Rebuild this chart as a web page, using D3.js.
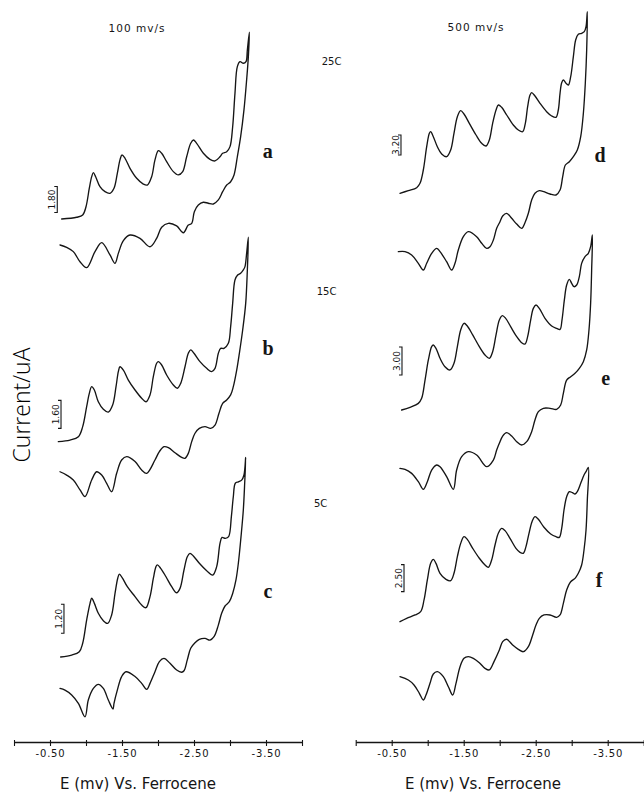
<!DOCTYPE html>
<html><head><meta charset="utf-8">
<script src="https://cdn.jsdelivr.net/npm/d3@7"></script>
<style>body{margin:0;background:#fff}svg{display:block}</style>
</head><body><svg id="chart" width="644" height="794"></svg>
<script>
// ---------- DATA (E in V vs Ferrocene, current in uA relative to scan start) ----------
const E_TICKS = [0, -0.5, -1, -1.5, -2, -2.5, -3, -3.5, -4];
const E_LABELS = [-0.5, -1.5, -2.5, -3.5];
const SCAN_RATES = ["100 mv/s", "500 mv/s"];
const TEMPERATURES = ["25C", "15C", "5C"];
const PANEL_LETTERS = ["a", "b", "c", "d", "e", "f"];
const SCALE_BARS = [1.80, 1.60, 1.20, 3.20, 3.00, 2.50];

const a_forward = [[-0.662,0.00],[-0.870,0.12],[-0.954,0.28],[-1.000,0.85],[-1.046,2.13],[-1.079,2.93],[-1.102,3.21],[-1.134,2.93],[-1.194,2.24],[-1.264,1.89],[-1.333,1.78],[-1.389,2.13],[-1.435,3.16],[-1.472,4.09],[-1.500,4.43],[-1.542,4.20],[-1.611,3.51],[-1.704,2.82],[-1.796,2.42],[-1.852,2.35],[-1.912,2.93],[-1.958,4.09],[-2.005,4.73],[-2.051,4.55],[-2.120,3.97],[-2.213,3.28],[-2.282,3.05],[-2.343,3.28],[-2.398,4.31],[-2.454,5.24],[-2.491,5.47],[-2.537,5.24],[-2.630,4.55],[-2.722,4.13],[-2.792,4.02],[-2.861,4.31],[-2.898,4.55],[-2.954,4.66],[-3.000,5.01],[-3.037,6.39],[-3.069,8.70],[-3.102,10.55],[-3.139,10.89],[-3.185,10.78],[-3.222,10.89],[-3.241,11.70],[-3.269,12.93]];
const a_reverse = [[-3.255,11.24],[-3.231,9.63],[-3.194,7.55],[-3.148,5.70],[-3.102,4.31],[-3.056,3.05],[-3.009,2.58],[-2.954,2.35],[-2.898,1.89],[-2.838,1.32],[-2.769,1.04],[-2.699,1.09],[-2.630,1.16],[-2.560,0.97],[-2.505,0.51],[-2.468,-0.30],[-2.421,-0.42],[-2.352,-0.95],[-2.259,-0.48],[-2.144,-0.30],[-2.051,-0.57],[-1.981,-1.34],[-1.889,-1.92],[-1.750,-1.34],[-1.611,-1.11],[-1.519,-1.50],[-1.449,-2.38],[-1.403,-3.07],[-1.333,-2.49],[-1.218,-1.64],[-1.125,-2.26],[-1.009,-3.37],[-0.917,-2.96],[-0.824,-2.26],[-0.731,-1.96],[-0.639,-1.80]];

const b_forward = [[-0.616,0.02],[-0.778,0.11],[-0.894,0.30],[-0.954,0.88],[-1.009,2.02],[-1.046,2.78],[-1.079,3.16],[-1.116,2.97],[-1.171,2.30],[-1.241,1.87],[-1.310,1.71],[-1.370,2.11],[-1.417,3.16],[-1.449,4.02],[-1.472,4.30],[-1.519,4.11],[-1.588,3.54],[-1.681,2.97],[-1.773,2.50],[-1.833,2.30],[-1.889,2.69],[-1.935,3.73],[-1.981,4.50],[-2.005,4.59],[-2.051,4.40],[-2.120,3.83],[-2.213,3.26],[-2.269,3.07],[-2.315,3.35],[-2.375,4.30],[-2.421,5.07],[-2.454,5.26],[-2.500,5.07],[-2.583,4.59],[-2.676,4.21],[-2.745,4.02],[-2.792,4.21],[-2.838,5.07],[-2.870,5.35],[-2.917,5.35],[-2.977,5.64],[-3.009,6.59],[-3.037,7.92],[-3.069,9.26],[-3.106,9.54],[-3.148,9.64],[-3.185,9.83],[-3.208,10.02],[-3.231,10.78],[-3.255,11.70]];
const b_reverse = [[-3.241,9.83],[-3.218,7.92],[-3.176,6.40],[-3.130,5.07],[-3.093,4.11],[-3.046,3.16],[-3.009,2.69],[-2.954,2.40],[-2.898,2.21],[-2.847,1.64],[-2.792,0.97],[-2.731,0.78],[-2.653,0.88],[-2.574,0.78],[-2.514,0.50],[-2.468,0.02],[-2.421,-0.65],[-2.375,-0.93],[-2.329,-0.88],[-2.236,-0.61],[-2.144,-0.32],[-2.083,-0.27],[-2.019,-0.55],[-1.958,-1.03],[-1.843,-1.79],[-1.773,-1.60],[-1.681,-1.12],[-1.565,-0.84],[-1.495,-1.03],[-1.426,-1.79],[-1.356,-2.84],[-1.287,-2.36],[-1.218,-1.89],[-1.148,-1.70],[-1.079,-2.17],[-0.986,-3.12],[-0.917,-2.74],[-0.824,-2.17],[-0.731,-1.89],[-0.639,-1.70]];

const c_forward = [[-0.648,0.00],[-0.801,0.08],[-0.907,0.22],[-0.954,0.57],[-1.009,1.53],[-1.056,2.22],[-1.079,2.43],[-1.116,2.22],[-1.171,1.81],[-1.241,1.50],[-1.301,1.39],[-1.356,1.74],[-1.403,2.63],[-1.440,3.25],[-1.463,3.43],[-1.509,3.25],[-1.574,2.91],[-1.681,2.50],[-1.773,2.15],[-1.833,2.04],[-1.889,2.50],[-1.935,3.25],[-1.972,3.74],[-1.991,3.81],[-2.037,3.67],[-2.111,3.32],[-2.190,2.91],[-2.259,2.66],[-2.306,2.84],[-2.361,3.60],[-2.407,4.15],[-2.444,4.29],[-2.491,4.18],[-2.574,3.88],[-2.676,3.57],[-2.759,3.39],[-2.815,3.74],[-2.861,4.70],[-2.889,4.95],[-2.935,4.91],[-2.981,4.98],[-3.019,5.81],[-3.046,6.63],[-3.074,7.19],[-3.116,7.25],[-3.162,7.32],[-3.194,7.53],[-3.218,8.26]];
const c_reverse = [[-3.204,7.19],[-3.185,6.08],[-3.153,4.98],[-3.116,3.88],[-3.083,3.19],[-3.037,2.63],[-2.991,2.29],[-2.931,2.11],[-2.884,1.81],[-2.838,1.32],[-2.778,0.84],[-2.722,0.70],[-2.653,0.77],[-2.574,0.73],[-2.514,0.59],[-2.454,0.36],[-2.407,-0.12],[-2.361,-0.57],[-2.329,-0.63],[-2.259,-0.54],[-2.167,-0.26],[-2.083,-0.06],[-2.019,-0.19],[-1.958,-0.61],[-1.889,-1.09],[-1.843,-1.34],[-1.773,-1.09],[-1.681,-0.81],[-1.556,-0.61],[-1.495,-0.81],[-1.435,-1.37],[-1.389,-1.92],[-1.375,-2.15],[-1.310,-1.78],[-1.241,-1.30],[-1.171,-1.13],[-1.102,-1.30],[-1.032,-1.78],[-0.986,-2.48],[-0.894,-1.92],[-0.801,-1.57],[-0.708,-1.37],[-0.639,-1.30]];

const d_forward = [[-0.615,-0.05],[-0.731,0.37],[-0.847,0.85],[-0.893,1.55],[-0.939,3.68],[-0.986,7.41],[-1.023,9.55],[-1.041,9.81],[-1.078,9.01],[-1.134,7.41],[-1.194,6.24],[-1.263,5.81],[-1.319,6.88],[-1.365,9.55],[-1.412,12.21],[-1.458,13.17],[-1.504,12.64],[-1.578,11.15],[-1.671,9.28],[-1.750,7.95],[-1.810,7.52],[-1.856,8.48],[-1.902,11.15],[-1.949,13.28],[-1.981,14.08],[-2.027,13.71],[-2.097,12.48],[-2.189,10.88],[-2.259,10.08],[-2.319,9.81],[-2.356,11.15],[-2.388,13.81],[-2.421,15.68],[-2.444,16.05],[-2.490,15.52],[-2.560,14.35],[-2.652,13.01],[-2.722,12.32],[-2.782,12.11],[-2.814,13.28],[-2.838,15.95],[-2.861,17.65],[-2.884,18.08],[-2.921,17.55],[-2.953,17.28],[-2.986,18.61],[-3.023,21.81],[-3.055,24.48],[-3.092,25.39],[-3.138,25.55],[-3.175,25.81],[-3.199,26.61],[-3.217,29.01]];
const d_reverse = [[-3.208,22.88],[-3.189,17.55],[-3.162,12.75],[-3.125,9.01],[-3.078,6.88],[-3.023,5.81],[-2.967,5.01],[-2.912,4.48],[-2.875,2.61],[-2.838,0.48],[-2.782,-0.32],[-2.699,-0.16],[-2.615,0.21],[-2.550,0.37],[-2.490,-0.05],[-2.444,-1.12],[-2.398,-3.25],[-2.351,-4.75],[-2.305,-5.65],[-2.236,-4.96],[-2.166,-4.05],[-2.097,-3.25],[-2.041,-3.68],[-2.004,-4.59],[-1.958,-5.65],[-1.912,-7.52],[-1.865,-8.59],[-1.819,-8.85],[-1.750,-8.05],[-1.680,-6.99],[-1.564,-6.19],[-1.495,-6.99],[-1.425,-9.12],[-1.379,-11.25],[-1.333,-12.32],[-1.263,-10.99],[-1.171,-9.39],[-1.125,-8.85],[-1.055,-9.65],[-0.986,-11.25],[-0.939,-12.32],[-0.870,-11.25],[-0.777,-9.92],[-0.685,-9.39],[-0.592,-9.39]];

const e_forward = [[-0.638,0.00],[-0.754,0.29],[-0.870,0.71],[-0.916,1.25],[-0.963,3.21],[-1.009,5.36],[-1.055,6.79],[-1.078,6.96],[-1.115,6.61],[-1.171,5.54],[-1.240,4.64],[-1.310,4.29],[-1.365,5.00],[-1.412,6.79],[-1.458,8.57],[-1.504,9.29],[-1.550,9.00],[-1.625,8.04],[-1.717,6.79],[-1.796,5.89],[-1.856,5.54],[-1.902,6.25],[-1.949,8.04],[-1.995,9.64],[-2.037,10.11],[-2.083,9.82],[-2.152,8.93],[-2.236,7.86],[-2.305,7.21],[-2.351,7.07],[-2.388,7.86],[-2.430,9.64],[-2.467,10.89],[-2.504,11.25],[-2.550,10.89],[-2.629,9.82],[-2.722,9.00],[-2.791,8.75],[-2.838,8.64],[-2.865,9.64],[-2.898,11.79],[-2.930,13.39],[-2.967,14.00],[-3.000,13.57],[-3.032,13.21],[-3.069,13.39],[-3.106,14.29],[-3.138,15.71],[-3.185,16.43],[-3.231,16.79],[-3.263,17.50],[-3.287,18.75]];
const e_reverse = [[-3.277,15.00],[-3.263,11.43],[-3.240,8.57],[-3.208,6.43],[-3.162,5.18],[-3.106,4.46],[-3.046,3.93],[-2.986,3.57],[-2.930,3.21],[-2.884,1.79],[-2.847,0.54],[-2.791,0.07],[-2.699,0.18],[-2.606,0.18],[-2.537,-0.18],[-2.490,-1.07],[-2.444,-2.32],[-2.375,-3.39],[-2.305,-3.75],[-2.236,-3.39],[-2.166,-2.79],[-2.097,-2.43],[-2.041,-2.79],[-1.995,-3.57],[-1.958,-4.29],[-1.912,-5.36],[-1.819,-6.07],[-1.680,-4.82],[-1.564,-4.46],[-1.472,-5.00],[-1.402,-6.43],[-1.356,-8.50],[-1.263,-7.14],[-1.171,-6.07],[-1.125,-5.89],[-1.055,-6.43],[-0.995,-7.68],[-0.939,-8.50],[-0.870,-7.68],[-0.777,-6.79],[-0.685,-6.36],[-0.615,-6.25]];

const f_forward = [[-0.615,0.03],[-0.708,0.34],[-0.824,0.65],[-0.902,0.96],[-0.949,2.04],[-0.995,3.89],[-1.041,5.43],[-1.078,5.80],[-1.115,5.43],[-1.171,4.51],[-1.254,3.95],[-1.319,3.83],[-1.365,4.51],[-1.412,6.05],[-1.458,7.28],[-1.504,7.90],[-1.550,7.65],[-1.625,6.82],[-1.717,5.90],[-1.796,5.28],[-1.842,5.06],[-1.888,5.74],[-1.935,7.13],[-1.981,8.21],[-2.027,8.67],[-2.074,8.46],[-2.143,7.75],[-2.226,6.82],[-2.282,6.45],[-2.328,6.36],[-2.365,6.98],[-2.407,8.21],[-2.449,9.29],[-2.490,9.75],[-2.537,9.51],[-2.615,8.77],[-2.708,8.15],[-2.782,7.90],[-2.828,7.84],[-2.861,8.67],[-2.893,10.37],[-2.930,11.60],[-2.967,12.07],[-3.009,11.98],[-3.046,11.85],[-3.078,12.07],[-3.125,12.84],[-3.171,13.61],[-3.199,13.92],[-3.231,14.32]];
const f_reverse = [[-3.217,11.30],[-3.199,8.52],[-3.171,6.67],[-3.138,5.28],[-3.092,4.51],[-3.046,4.04],[-2.986,3.73],[-2.930,2.96],[-2.884,1.73],[-2.838,0.65],[-2.791,0.43],[-2.699,0.65],[-2.615,0.65],[-2.550,0.34],[-2.504,-0.28],[-2.458,-1.20],[-2.398,-2.28],[-2.328,-2.75],[-2.259,-2.53],[-2.180,-2.13],[-2.097,-1.60],[-2.041,-1.82],[-1.995,-2.59],[-1.921,-3.67],[-1.856,-4.44],[-1.796,-4.29],[-1.717,-3.77],[-1.634,-3.36],[-1.564,-3.21],[-1.504,-3.36],[-1.449,-4.14],[-1.393,-5.68],[-1.347,-6.76],[-1.287,-5.99],[-1.217,-5.06],[-1.134,-4.60],[-1.078,-4.81],[-1.032,-5.68],[-0.976,-6.76],[-0.939,-7.22],[-0.884,-6.60],[-0.810,-5.83],[-0.731,-5.37],[-0.615,-5.06]];

// ---------- LAYOUT ----------
const svg = d3.select("#chart");
const INK = "#151515";
const SANS = "'DejaVu Sans', sans-serif";
const COLUMNS = [{x0: 14, axisY: 742, titleX: 137, titleY: 31.5, labelX: 138},
                 {x0: 355.7, axisY: 742, titleX: 476, titleY: 30.5, labelX: 483}];
const AXIS_W = 288;
const xScales = COLUMNS.map(c => d3.scaleLinear().domain([0, -4]).range([c.x0, c.x0 + AXIS_W]));

// panel layout: baseline pixel of scan start, pixel length of the scale bar, bar anchor (data), letter position
const PANELS = [
  {col:0, fwd:a_forward, rev:a_reverse, base:219,  barPx:26, barE:-0.601, barI:0.45, lx:267.7, ly:158},
  {col:0, fwd:b_forward, rev:b_reverse, base:442,  barPx:28, barE:-0.653, barI:0.78, lx:268,   ly:355},
  {col:0, fwd:c_forward, rev:c_reverse, base:657,  barPx:29, barE:-0.694, barI:0.98, lx:268,   ly:598},
  {col:1, fwd:d_forward, rev:d_reverse, base:193,  barPx:20, barE:-0.629, barI:6.08, lx:600,   ly:162},
  {col:1, fwd:e_forward, rev:e_reverse, base:410,  barPx:28, barE:-0.643, barI:3.75, lx:605.7, ly:385},
  {col:1, fwd:f_forward, rev:f_reverse, base:622,  barPx:27, barE:-0.671, barI:2.81, lx:599,   ly:587}
];
const TEMP_POS = [{x:321.7, y:65}, {x:316.7, y:295}, {x:314, y:507}];

// ---------- DRAW ----------
PANELS.forEach((p, k) => {
  const x = xScales[p.col];
  const V = SCALE_BARS[k];
  const y = d3.scaleLinear().domain([0, V]).range([p.base, p.base - p.barPx]);
  const line = d3.line().x(d => x(d[0])).y(d => y(d[1])).curve(d3.curveCatmullRom.alpha(0.5));
  svg.append("path")
    .attr("d", line(p.fwd.concat(p.rev)))
    .attr("fill", "none").attr("stroke", INK).attr("stroke-width", 1.35)
    .attr("stroke-linejoin", "round").attr("stroke-linecap", "round");

  // scale bar "]"
  const bx = x(p.barE), yb = y(p.barI), yt = y(p.barI + V);
  svg.append("path")
    .attr("d", `M${bx - 3},${yt}H${bx}V${yb}H${bx - 3}`)
    .attr("fill", "none").attr("stroke", INK).attr("stroke-width", 1.1);
  const cy = (yb + yt) / 2;
  svg.append("text")
    .attr("transform", `translate(${bx - 2.2},${cy}) rotate(-90)`)
    .attr("text-anchor", "middle")
    .attr("font-family", SANS).attr("font-size", 9).attr("fill", INK)
    .text(V.toFixed(2));

  // panel letter
  svg.append("text")
    .attr("x", p.lx).attr("y", p.ly)
    .attr("text-anchor", "middle")
    .attr("font-family", "'Liberation Serif', 'Times New Roman', serif")
    .attr("font-weight", "bold").attr("font-size", 20).attr("fill", INK)
    .text(PANEL_LETTERS[k]);
});

// temperatures
TEMPERATURES.forEach((t, i) => {
  svg.append("text").attr("x", TEMP_POS[i].x).attr("y", TEMP_POS[i].y)
    .attr("font-family", SANS).attr("font-size", 10).attr("fill", INK)
    .text(t);
});

// column titles, axes, axis labels
COLUMNS.forEach((c, i) => {
  svg.append("text").attr("x", c.titleX).attr("y", c.titleY)
    .attr("text-anchor", "middle").attr("font-family", SANS)
    .attr("font-size", 10.5).attr("letter-spacing", 1).attr("fill", INK)
    .text(SCAN_RATES[i]);

  const axis = d3.axisBottom(xScales[i])
    .tickValues(E_TICKS).tickSize(5).tickSizeOuter(0)
    .tickFormat(d => E_LABELS.includes(d) ? d.toFixed(2) : "");
  const g = svg.append("g").attr("transform", `translate(0,${c.axisY})`).call(axis);
  g.select(".domain").attr("stroke", INK).attr("stroke-width", 1.3);
  g.selectAll(".tick line").attr("stroke", INK).attr("stroke-width", 1.1).attr("y1", -2).attr("y2", 4);
  g.selectAll(".tick text").attr("font-family", SANS).attr("font-size", 10)
    .attr("letter-spacing", 0.8).attr("fill", INK);

  svg.append("text").attr("x", c.labelX).attr("y", 789)
    .attr("text-anchor", "middle").attr("font-family", SANS)
    .attr("font-size", 15).attr("fill", INK)
    .text("E (mv) Vs. Ferrocene");
});

svg.append("text")
  .attr("transform", "translate(30,405) rotate(-90)")
  .attr("text-anchor", "middle").attr("font-family", "'Open Sans', 'DejaVu Sans', sans-serif")
  .attr("font-size", 23).attr("font-weight", 300).attr("fill", "#000")
  .text("Current/uA");
</script>
</body></html>
